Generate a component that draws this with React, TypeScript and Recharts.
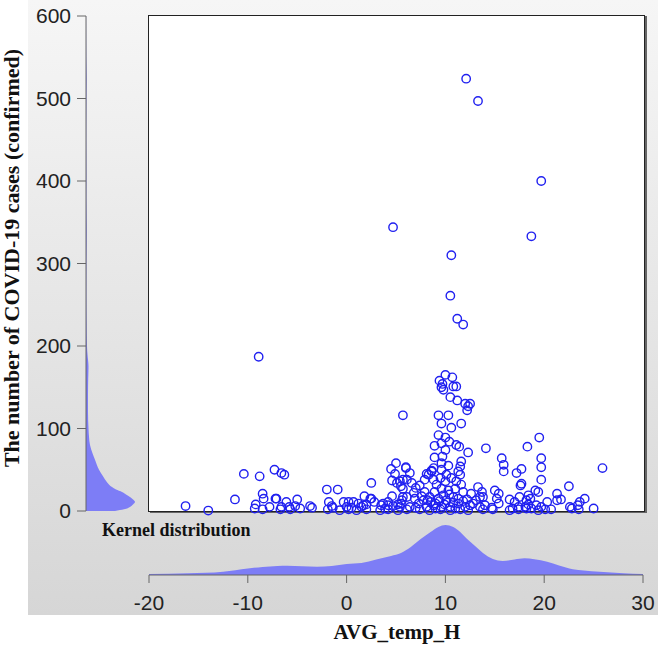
import React from 'react';
import { ScatterChart, Scatter, XAxis, YAxis, AreaChart, Area } from 'recharts';

const xTicks = [-20, -10, 0, 10, 20, 30];
const yTicks = [0, 100, 200, 300, 400, 500, 600];

// [AVG_temp_H, confirmed cases]
const scatterHigh: [number, number][] = [
  [12.1, 524], [13.3, 497], [19.7, 400], [4.7, 344], [18.7, 333], [10.6, 310], [10.5, 261],
  [11.2, 233], [11.8, 226], [-8.9, 187], [10.0, 165], [10.7, 162], [9.4, 158], [9.7, 154],
  [9.6, 150], [9.8, 147], [10.8, 151], [11.1, 151], [10.5, 138], [11.2, 134], [12.0, 130],
  [12.5, 130], [12.2, 122], [12.3, 127], [5.7, 116], [9.3, 116], [10.3, 116], [9.6, 106],
  [10.6, 101], [11.6, 106],
];

const scatterMid: [number, number][] = [
  [19.5, 89], [9.3, 92], [10.0, 89], [10.4, 84], [9.6, 82], [8.9, 79], [11.1, 80], [11.4, 78],
  [12.3, 71], [10.0, 74], [9.7, 66], [8.9, 65], [14.1, 76], [18.3, 78], [15.7, 64], [15.9, 56],
  [15.9, 48], [17.2, 46], [17.7, 51], [17.7, 33], [19.7, 64], [19.7, 53], [19.7, 38], [25.9, 52],
  [22.5, 30], [19.1, 25], [19.4, 23], [21.3, 21], [9.6, 58], [10.3, 55], [11.6, 60], [11.5, 54],
  [11.3, 48], [9.6, 50], [8.8, 52], [6.0, 52], [6.4, 46], [8.1, 45], [8.6, 49], [13.3, 29],
  [13.7, 23], [15.0, 25], [15.4, 21], [-10.4, 45], [-8.8, 42], [-7.3, 50], [-6.6, 46], [-6.3, 44],
  [-8.5, 21], [-2.0, 26], [-0.9, 26], [2.5, 34], [5.0, 58], [4.5, 51], [4.9, 45], [4.6, 37],
  [5.1, 34], [5.5, 30], [6.0, 53], [5.7, 38], [6.1, 38], [6.6, 34], [5.7, 27], [7.4, 31],
  [7.9, 38], [8.3, 44], [8.6, 48], [8.8, 38], [9.1, 32], [9.5, 40], [9.6, 27], [10.0, 36],
  [10.3, 25], [8.9, 23], [11.1, 36], [11.6, 32], [11.0, 27], [11.8, 23], [12.6, 21], [7.9, 23],
  [5.4, 36], [10.1, 44], [10.6, 40], [11.5, 44], [17.6, 31], [7.0, 28], [6.8, 22], [10.4, 20],
];

const scatterLow: [number, number][] = [
  [-16.3, 6], [-14.0, 0.5], [-11.3, 14], [-9.2, 8], [-8.4, 15], [-7.2, 15], [-8.5, 2], [-7.8, 5],
  [-7.1, 15], [-6.1, 11], [-5.0, 14], [-6.6, 5], [-5.8, 5], [-5.2, 6], [-4.7, 3], [-3.7, 6],
  [-3.5, 4], [-1.8, 11], [-1.5, 6], [-1.4, 4], [-1.9, 2], [-0.3, 11], [0.2, 11], [0.7, 11],
  [1.2, 9], [1.7, 7], [0.0, 5], [0.5, 4], [1.5, 5], [1.8, 18], [2.5, 15], [2.8, 11], [3.5, 7],
  [4.2, 7], [3.9, 3], [4.6, 18], [4.7, 6], [5.2, 8], [5.5, 9], [5.7, 17], [2.4, 15], [2.0, 8],
  [3.7, 9], [4.2, 11], [-9.3, 3], [-6.7, 2], [-5.7, 2], [6.1, 17], [6.9, 15], [7.3, 9], [6.4, 5],
  [9.3, 15], [10.1, 13], [10.8, 17], [11.3, 9], [12.0, 5], [12.5, 7], [10.5, 5], [9.6, 5],
  [8.8, 7], [8.1, 5], [7.8, 13], [9.8, 19], [5.6, 13], [5.4, 5], [13.1, 13], [13.8, 17],
  [13.5, 5], [14.0, 7], [8.4, 17], [13.5, 17], [15.2, 15], [15.4, 9], [14.7, 4], [16.5, 14],
  [17.0, 11], [17.5, 17], [18.2, 13], [17.4, 5], [18.1, 5], [16.8, 3], [18.4, 8], [21.3, 13],
  [21.7, 14], [24.1, 15], [23.6, 11], [23.4, 7], [22.6, 5], [22.8, 3], [25.0, 3], [18.4, 19],
  [18.6, 15], [19.2, 7], [19.7, 5], [20.3, 11], [18.2, 3], [18.7, 3], [20.7, 2], [6.1, 2],
  [7.4, 2], [8.4, 1], [9.5, 2], [10.5, 1], [11.5, 2], [12.3, 1], [13.8, 2], [14.8, 2], [16.5, 1],
  [17.4, 2], [19.4, 1], [20.1, 2], [23.5, 2], [1.0, 1], [2.0, 2], [3.4, 1], [4.2, 2], [5.2, 1],
  [-0.7, 1], [0.2, 2], [8.5, 11], [9.0, 9], [9.9, 8], [10.8, 10], [11.8, 12], [12.8, 9], [7.6, 18],
  [11.3, 15], [12.2, 14], [8.2, 13], [9.4, 12], [11.0, 3], [9.0, 3], [7.0, 4],
];

// kernel density of temperature (x) and of cases (y)
const tempKde: [number, number][] = [
  [-20, 0.001], [-16, 0.0017], [-12.5, 0.0033], [-10, 0.0065], [-8.5, 0.008], [-7, 0.009],
  [-6, 0.0093], [-4.5, 0.0088], [-3, 0.0083], [-1.5, 0.009], [0, 0.011], [1.5, 0.012],
  [3, 0.0155], [4.5, 0.019], [5.5, 0.022], [6.5, 0.028], [7.5, 0.036], [8.5, 0.043],
  [9.3, 0.048], [10, 0.05], [10.8, 0.048], [11.5, 0.043], [12.2, 0.036], [13, 0.029],
  [13.8, 0.022], [14.8, 0.016], [15.8, 0.014], [17, 0.0155], [18, 0.0167], [19, 0.0158],
  [20.3, 0.0133], [21.5, 0.0095], [22.9, 0.0057], [24, 0.0045], [25.6, 0.0033], [28, 0.0017],
  [30, 0.001],
];

const casesKde: [number, number][] = [
  [0, 0.029], [2, 0.038], [5, 0.044], [8, 0.047], [11, 0.049], [14, 0.047], [17, 0.044],
  [20, 0.04], [23, 0.036], [26, 0.03], [29, 0.026], [35, 0.021], [42, 0.017], [50, 0.013],
  [62, 0.009], [70, 0.0065], [80, 0.004], [90, 0.003], [100, 0.0025], [120, 0.002],
  [140, 0.002], [160, 0.0022], [175, 0.0025], [190, 0.0015], [200, 0.001], [230, 0.0006],
  [260, 0.0004], [300, 0.0005], [340, 0.0008], [380, 0.0004], [400, 0.0005], [450, 0.0003],
  [500, 0.0005], [525, 0.0007], [550, 0.0003], [600, 0.0001],
];

const BLUE = '#2020f0';
const KDE_FILL = '#7d7df6';
const SANS = 'Arial, "Liberation Sans", sans-serif';
const SERIF = '"Times New Roman", "Liberation Serif", serif';

const Ring = (p: any) => (
  <circle cx={p.cx} cy={p.cy} r={4.2} fill="none" stroke={BLUE} strokeWidth={1.4} />
);

export default function App() {
  const points = [...scatterHigh, ...scatterMid, ...scatterLow].map(([t, c]) => ({ t, c }));
  const tempData = tempKde.map(([t, d]) => ({ t, d }));
  const casesData = casesKde.map(([c, d]) => ({ c, d }));

  return (
    <div style={{ position: 'absolute', left: 0, top: 0, width: 662, height: 645, background: '#fff', overflow: 'hidden' }}>
      <div style={{ position: 'absolute', left: 28, top: 0, width: 630, height: 615, background: 'linear-gradient(#f6f6f6, #d6d6d6)' }} />
      <div style={{ position: 'absolute', left: 148, top: 15, width: 495, height: 495, background: '#fff', border: '1px solid #222', boxShadow: '2px 1px 0 #666' }} />

      <div style={{ position: 'absolute', left: 0, top: 0 }}>
        <ScatterChart width={662} height={645} margin={{ top: 16, right: 19, left: 149, bottom: 134 }}>
          <XAxis type="number" dataKey="t" domain={[-20, 30]} hide />
          <YAxis type="number" dataKey="c" domain={[0, 600]} hide />
          <Scatter data={points} shape={Ring} isAnimationActive={false} />
        </ScatterChart>
      </div>

      <div style={{ position: 'absolute', left: 0, top: 0 }}>
        <AreaChart width={140} height={540} layout="vertical" data={casesData} margin={{ top: 16, right: 4, bottom: 29, left: 0 }}>
          <XAxis type="number" domain={[0, 0.05]} hide />
          <YAxis
            type="number"
            dataKey="c"
            domain={[0, 600]}
            ticks={yTicks}
            interval={0}
            reversed
            width={86}
            tickSize={9}
            tickMargin={6}
            axisLine={{ stroke: '#666' }}
            tickLine={{ stroke: '#666' }}
            tick={{ fontSize: 21, fill: '#222', fontFamily: SANS }}
          />
          <Area type="monotone" dataKey="d" fill={KDE_FILL} fillOpacity={1} stroke="none" isAnimationActive={false} />
        </AreaChart>
      </div>

      <div style={{ position: 'absolute', left: 0, top: 0 }}>
        <AreaChart width={662} height={645} data={tempData} margin={{ top: 525, right: 19, left: 149, bottom: 30 }}>
          <XAxis
            type="number"
            dataKey="t"
            domain={[-20, 30]}
            ticks={xTicks}
            interval={0}
            height={40}
            tickSize={8}
            tickMargin={12}
            axisLine={{ stroke: '#666' }}
            tickLine={{ stroke: '#666' }}
            tick={{ fontSize: 21, fill: '#222', fontFamily: SANS }}
          />
          <YAxis type="number" domain={[0, 0.05]} hide />
          <Area type="monotone" dataKey="d" fill={KDE_FILL} fillOpacity={1} stroke="none" isAnimationActive={false} />
        </AreaChart>
      </div>

      <div style={{ position: 'absolute', left: 102, top: 521, fontFamily: SERIF, fontWeight: 'bold', fontSize: 18, lineHeight: '18px', color: '#111', whiteSpace: 'nowrap' }}>
        Kernel distribution
      </div>
      <div style={{ position: 'absolute', left: 297, top: 622, width: 200, textAlign: 'center', fontFamily: SERIF, fontWeight: 'bold', fontSize: 21, lineHeight: '21px', color: '#111' }}>
        AVG_temp_H
      </div>
      <div style={{ position: 'absolute', left: -238, top: 247, width: 500, height: 22, textAlign: 'center', transform: 'rotate(-90deg)', fontFamily: SERIF, fontWeight: 'bold', fontSize: 22, lineHeight: '22px', color: '#111', whiteSpace: 'nowrap' }}>
        The number of COVID-19 cases (confirmed)
      </div>
    </div>
  );
}
